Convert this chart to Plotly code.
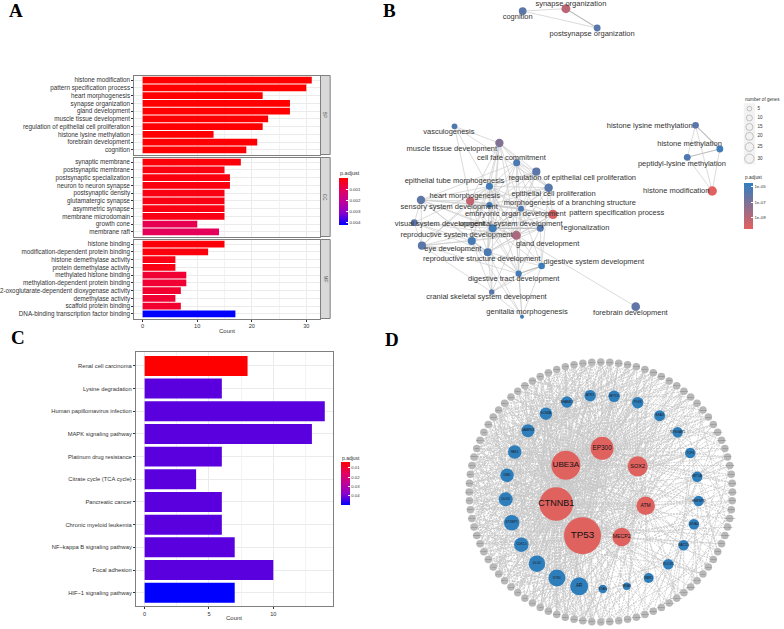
import math
import plotly.graph_objects as go

W, H = 784, 629
FONT = "Liberation Sans"

# ---------- Panel A data ----------
BP_TERMS = ["histone modification", "pattern specification process", "heart morphogenesis", "synapse organization",
            "gland development", "muscle tissue development", "regulation of epithelial cell proliferation",
            "histone lysine methylation", "forebrain development", "cognition"]
BP_COUNT = [31, 30, 22, 27, 27, 23, 22, 13, 21, 19]
BP_P = [0.00001, 0.00001, 0.00001, 0.00001, 0.00001, 0.00002, 0.00002, 0.00002, 0.00003, 0.00003]
CC_TERMS = ["synaptic membrane", "postsynaptic membrane", "postsynaptic specialization", "neuron to neuron synapse",
            "postsynaptic density", "glutamatergic synapse", "asymmetric synapse", "membrane microdomain",
            "growth cone", "membrane raft"]
CC_COUNT = [18, 15, 16, 16, 15, 15, 15, 15, 10, 14]
CC_P = [0.00012, 0.00016, 0.00018, 0.00018, 0.00022, 0.00022, 0.00022, 0.00024, 0.00095, 0.00105]
MF_TERMS = ["histone binding", "modification-dependent protein binding", "histone demethylase activity",
            "protein demethylase activity", "methylated histone binding", "methylation-dependent protein binding",
            "2-oxoglutarate-dependent dioxygenase activity", "demethylase activity", "scaffold protein binding",
            "DNA-binding transcription factor binding"]
MF_COUNT = [15, 12, 6, 6, 8, 8, 7, 6, 7, 17]
MF_P = [0.0001, 0.00015, 0.00025, 0.00025, 0.0006, 0.0006, 0.00055, 0.0006, 0.00055, 0.00427]

# ---------- Panel C data ----------
KEGG_TERMS = ["Renal cell carcinoma", "Lysine degradation", "Human papillomavirus infection", "MAPK signaling pathway",
              "Platinum drug resistance", "Citrate cycle (TCA cycle)", "Pancreatic cancer", "Chronic myeloid leukemia",
              "NF\u2212kappa B signaling pathway", "Focal adhesion", "HIF\u22121 signaling pathway"]
KEGG_COUNT = [8, 6, 14, 13, 6, 4, 6, 6, 7, 10, 7]
KEGG_P = [0.0039, 0.0424, 0.0424, 0.0424, 0.0424, 0.0424, 0.0424, 0.0424, 0.0424, 0.0424, 0.05]

# ---------- Panel B data ----------
EMAP_TERMS = ["vasculogenesis", "muscle tissue development", "cell fate commitment",
              "regulation of epithelial cell proliferation", "epithelial tube morphogenesis",
              "epithelial cell proliferation", "heart morphogenesis", "sensory system development",
              "morphogenesis of a branching structure", "embryonic organ development", "pattern specification process",
              "visual system development", "urogenital system development", "regionalization",
              "reproductive system development", "gland development", "eye development",
              "reproductive structure development", "digestive system development", "digestive tract development",
              "cranial skeletal system development", "genitalia morphogenesis", "forebrain development",
              "cognition", "synapse organization", "postsynapse organization", "histone lysine methylation",
              "histone methylation", "peptidyl-lysine methylation", "histone modification"]
EMAP_GENES = [9, 23, 15, 22, 15, 24, 22, 23, 10, 10, 30, 14, 21, 15, 21, 27, 22, 21, 13, 11, 8, 3, 25, 19, 27, 14, 13, 14, 14, 31]
EMAP_LOGP = [-5.6, -7.2, -5.5, -6.0, -5.1, -5.9, -9.3, -6.1, -5.3, -5.6, -10.0, -6.0, -5.2, -5.8, -5.4, -8.6, -6.0, -5.5,
             -5.0, -5.2, -6.0, -5.0, -6.2, -6.0, -9.1, -5.9, -6.0, -5.1, -5.6, -10.3]
EMAP_X = [191, 326, 378, 437, 296, 474, 238, 90, 296, 391, 487, 70, 306, 449, 243, 377, 93, 291, 453, 384, 303, 394, 736,
          396, 526, 620, 916, 989, 891, 966]
EMAP_Y = [379, 429, 488, 515, 559, 563, 603, 600, 615, 626, 643, 668, 685, 685, 723, 706, 737, 757, 798, 821, 876, 950,
          920, 33, 26, 84, 376, 447, 472, 573]
EMAP_LABEL_X = [174, 183, 362, 545, 191, 489, 222, 175, 538, 374, 679, 147, 360, 584, 197, 471, 186, 273, 610, 369, 287,
                409, 720, 381, 541, 605, 778, 898, 875, 858]
EMAP_LABEL_Y = [397, 446, 475, 533, 544, 582, 588, 620, 610, 641, 640, 671, 671, 685, 704, 732, 748, 776, 786, 838, 892,
                935, 938, 51, 11, 102, 377, 433, 491, 574]
EMAP_EDGES = [(0, 1), (0, 6), (0, 15), (0, 5), (1, 2), (1, 3), (1, 4), (1, 6), (1, 15), (1, 9), (1, 12), (1, 5), (1, 14),
              (1, 17), (2, 3), (2, 4), (2, 5), (2, 8), (2, 9), (2, 10), (2, 12), (2, 13), (2, 7), (2, 15), (3, 5), (3, 4),
              (3, 15), (3, 8), (3, 6), (3, 9), (3, 12), (4, 5), (4, 6), (4, 7), (4, 8), (4, 9), (4, 10), (4, 11), (4, 12),
              (4, 13), (4, 14), (4, 15), (4, 16), (4, 17), (4, 19), (5, 6), (5, 8), (5, 9), (5, 10), (5, 12), (5, 15),
              (5, 18), (6, 7), (6, 8), (6, 9), (6, 10), (6, 12), (6, 14), (6, 15), (6, 16), (6, 17), (6, 19), (7, 8),
              (7, 9), (7, 11), (7, 12), (7, 14), (7, 16), (7, 17), (7, 15), (8, 9), (8, 10), (8, 12), (8, 13), (8, 15),
              (8, 17), (9, 10), (9, 12), (9, 13), (9, 15), (9, 14), (9, 17), (9, 18), (9, 19), (10, 12), (10, 13),
              (10, 15), (10, 17), (11, 12), (11, 14), (11, 16), (11, 17), (11, 15), (12, 13), (12, 14), (12, 15), (12, 16),
              (12, 17), (12, 18), (12, 19), (12, 20), (13, 15), (13, 17), (13, 18), (13, 19), (14, 15), (14, 16),
              (14, 17), (14, 19), (14, 20), (14, 21), (15, 16), (15, 17), (15, 18), (15, 19), (15, 20), (15, 21),
              (15, 22), (16, 17), (16, 19), (16, 20), (17, 18), (17, 19), (17, 20), (17, 21), (18, 19), (18, 20), (18, 21),
              (19, 20), (19, 21), (20, 21), (23, 24), (23, 25), (26, 28), (26, 29), (27, 29), (28, 29)]
EMAP_THICK_EDGES = [(24, 25), (26, 27), (27, 28), (13, 12), (18, 19)]
SIZE_LEGEND_GENES = [5, 10, 15, 20, 25, 30]
SIZE_LEGEND_Y = [326, 354, 381, 409, 441, 476]

# ---------- Panel D data ----------
HUB_GENES = ["TP53", "CTNNB1", "UBE3A", "EP300", "SOX2", "ATM", "MECP2"]
HUB_X = [306, 227, 256, 365, 472, 496, 424]
HUB_Y = [497, 402, 286, 235, 289, 407, 501]
HUB_DIAM = [37, 33.5, 29, 23, 20, 18.5, 18.5]
HUB_FONT = [9.8, 9, 8.1, 6.4, 5.6, 5, 5.2]
MID_GENES = ["SHANK3", "ATRX", "SETD5", "PLK3", "SKA3", "SYNGAP1", "TCF4", "MIT1A", "HNRNPU", "GRIA2", "NAT2D", "ROCK1",
             "NBR1", "NRAS", "STAG", "AR", "SYN1", "DLG2", "CDKL5", "STXBP1", "DLG3", "DMD", "PAK2", "GABRG3", "SCN8A"]
MID_X = [259, 329, 401, 472, 538, 592, 630, 651, 655, 641, 610, 564, 505, 439, 367, 296, 229, 169, 122, 93, 75, 79, 102,
         142, 196]
MID_Y = [96, 77, 79, 98, 137, 187, 249, 320, 393, 463, 526, 583, 624, 649, 657, 649, 624, 581, 524, 458, 388, 316, 246,
         182, 131]
MID_DIAM = [11.5, 11.5, 11.5, 11.5, 11, 10.5, 10.5, 10.5, 10.5, 10.5, 10.5, 10.5, 10, 7.5, 8.5, 18, 17, 16.5, 14.5,
            15.5, 14, 13.5, 13.5, 13, 12.5]
RING_GENES = ["BRD4", "KMT2A", "HDAC4", "CHD8", "CHD2", "ASXL1", "ARID1B", "NIPBL", "TBR1", "FOXP1", "KDM5C", "KDM6A",
              "PHF8", "SETD2", "NSD1", "EZH2", "DNMT3A", "CREBBP", "ADNP", "POGZ", "GRIN2B", "GRIN1", "NLGN3", "NLGN4X",
              "NRXN1", "CNTN4", "CNTNAP2", "SHANK2", "HOMER1", "RELN", "PTEN", "TSC1", "TSC2", "NF1", "SMAD4", "MED13L",
              "DYRK1A", "CACNA1C", "CACNA1H", "SCN1A", "SCN2A", "KCNQ2", "GABRB3", "MAPT", "APP", "PSEN1", "HTT", "SNCA",
              "NOTCH1", "WNT1", "FZD4", "GSK3B", "AXIN2", "APC", "MYC", "JUN", "FOS", "KRAS", "BRAF", "RAF1", "AKT1",
              "MTOR", "PIK3CA", "EGFR", "ERBB2", "IGF1R", "FGFR1", "VEGFA", "HIF1A", "STAT3", "NFKB1", "RELA", "CDK2",
              "CCND1", "RB1", "BRCA1", "ATR", "CHEK1", "MDM2", "SIRT1", "HSPA8", "HSP90", "UBC", "SUMO1", "XPO1", "PCNA",
              "YWHAZ", "TUBB", "ACTB", "SOX9", "PAX6", "GATA4"]
# neighbours typed as: 0-91 outer ring, 100-124 middle ring, 200-206 hubs
HUB_LINKS = {
    200: [0, 2, 3, 7, 9, 12, 16, 19, 24, 27, 29, 33, 36, 40, 42, 45, 47, 49, 50, 52, 55, 56, 58, 60, 61, 63, 65, 66, 68,
          70, 71, 73, 74, 77, 79, 80, 82, 84, 86, 88, 89, 91, 100, 103, 106, 109, 112, 115, 116, 117, 118, 119, 120, 201,
          202, 203, 204, 205, 206],
    201: [1, 4, 6, 10, 14, 17, 21, 26, 31, 35, 38, 43, 46, 48, 51, 53, 54, 57, 59, 62, 64, 67, 69, 72, 75, 76, 78, 81, 83,
          85, 87, 90, 101, 104, 108, 111, 114, 117, 119, 121, 122, 123, 124, 202, 203, 204, 205, 206],
    202: [0, 3, 5, 8, 11, 15, 20, 25, 30, 34, 44, 47, 50, 53, 55, 58, 61, 63, 65, 68, 70, 73, 76, 79, 82, 83, 85, 87, 88,
          90, 91, 100, 102, 105, 110, 113, 118, 120, 122, 123, 124, 203, 204, 206],
    203: [1, 2, 5, 7, 9, 13, 18, 22, 28, 32, 37, 41, 46, 49, 52, 56, 59, 62, 66, 69, 72, 75, 78, 80, 84, 86, 89, 101, 102,
          103, 107, 116, 119, 121, 204, 205],
    204: [4, 6, 8, 12, 14, 19, 23, 27, 30, 39, 43, 48, 54, 60, 64, 67, 71, 74, 77, 81, 85, 90, 103, 104, 106, 107, 111,
          118, 122, 205, 206],
    205: [2, 10, 15, 17, 20, 24, 31, 34, 37, 41, 44, 49, 51, 57, 63, 69, 73, 78, 83, 88, 105, 108, 109, 112, 115, 120, 206],
    206: [3, 11, 16, 21, 25, 29, 33, 36, 38, 42, 47, 50, 55, 59, 65, 70, 76, 82, 87, 110, 113, 114, 116, 117, 121],
}
MID_LINKS = {
    100: [82, 85, 88, 2, 7, 60, 71, 121], 101: [84, 90, 4, 11, 51, 66, 102], 102: [1, 6, 9, 47, 56, 74, 103],
    103: [3, 8, 13, 17, 43, 58], 104: [10, 14, 18, 24, 45, 60], 105: [12, 16, 21, 33, 48], 106: [15, 19, 25, 30, 37, 54],
    107: [20, 22, 27, 39, 52, 68], 108: [23, 26, 31, 35, 46, 72], 109: [28, 29, 34, 41, 57], 110: [24, 32, 36, 38, 50, 77],
    111: [33, 37, 40, 44, 55, 64], 112: [42, 45, 48, 53, 80], 113: [46, 49], 114: [47, 51, 61], 115: [48, 50, 52, 54, 56,
    58, 86, 22, 117], 116: [53, 55, 57, 59, 62, 79, 9, 118], 117: [58, 60, 61, 64, 66, 83, 5, 118], 118: [62, 63, 65, 67,
    70, 88, 13], 119: [66, 68, 69, 72, 75, 91, 28], 120: [70, 71, 73, 76, 80, 15], 121: [74, 75, 77, 79, 82, 3],
    122: [76, 78, 81, 84, 87, 19], 123: [80, 83, 85, 86, 89, 6], 124: [81, 84, 87, 90, 91, 10],
}
# further neighbours of the densely connected left half
EXTRA_LINKS = {
    200: [1, 4, 5, 6, 10, 11, 51, 53, 54, 57, 59, 62, 64, 67, 69, 72, 75, 76, 78, 81, 83, 85, 87, 90, 101, 102, 104, 105,
          121, 122, 123, 124, 13, 22],
    201: [0, 2, 3, 5, 7, 8, 9, 11, 12, 13, 15, 16, 47, 49, 50, 52, 55, 56, 58, 60, 61, 63, 65, 66, 68, 70, 71, 73, 74, 77,
          79, 80, 82, 84, 86, 88, 89, 91, 100, 102, 103, 106, 115, 116, 118, 120],
    202: [1, 2, 4, 6, 7, 9, 10, 12, 14, 46, 48, 49, 51, 52, 54, 56, 57, 59, 60, 62, 64, 66, 67, 69, 71, 72, 74, 75, 77, 78,
          80, 81, 84, 86, 89, 101, 103, 106, 115, 116, 117, 119, 121],
    203: [0, 3, 4, 6, 8, 10, 11, 14, 16, 48, 50, 51, 53, 54, 57, 58, 60, 61, 63, 64, 67, 68, 70, 71, 73, 74, 76, 77, 79, 81,
          82, 83, 85, 87, 88, 90, 91, 100, 104, 105, 106, 117, 118, 122, 123, 124],
    204: [0, 1, 3, 5, 9, 10, 16, 18, 21, 46, 51, 52, 58, 62, 65, 69, 73, 78, 83, 87, 91, 100, 101, 105, 108, 117, 120, 124],
    205: [0, 5, 8, 12, 46, 53, 55, 60, 65, 67, 71, 75, 80, 85, 90, 100, 103, 106, 107, 110, 117, 119, 122],
    206: [1, 6, 13, 19, 44, 46, 48, 52, 57, 61, 63, 68, 72, 78, 84, 89, 100, 104, 111, 112, 115, 118, 120, 122],
    115: [44, 60, 65, 70, 76, 82, 88, 2], 116: [47, 51, 66, 71, 77, 85, 91, 5], 117: [49, 54, 69, 73, 80, 86, 0, 8],
    118: [52, 57, 60, 74, 78, 84, 90, 4], 119: [50, 55, 61, 78, 83, 87, 1, 11], 120: [48, 53, 59, 64, 68, 85, 89, 0],
    121: [47, 58, 63, 66, 70, 86, 91, 7], 122: [49, 56, 62, 67, 72, 90, 2, 12], 123: [46, 51, 59, 65, 73, 91, 4, 9],
    124: [50, 54, 61, 69, 75, 78, 1, 6], 100: [56, 64, 68, 74, 79, 90, 5], 101: [47, 62, 69, 78, 87, 1], 102: [53, 65, 72,
    80, 88, 3], 103: [49, 61, 76, 84, 91], 104: [50, 63, 75, 82, 8],
}
RING_CHORDS = [(0, 45), (5, 52), (9, 30), (13, 38), (16, 41), (18, 35), (20, 33), (22, 43), (25, 37), (26, 49), (28, 42),
               (11, 60), (14, 54), (7, 66), (3, 72), (47, 83), (50, 76), (53, 90), (56, 70), (61, 85), (64, 80), (48, 62),
               (31, 46), (34, 40), (12, 27), (17, 44), (19, 57), (23, 39), (67, 88), (58, 74), (2, 50), (6, 58), (10, 48),
               (51, 86), (55, 82), (59, 89), (63, 87), (65, 84), (68, 81), (69, 91), (71, 1), (73, 4), (75, 8), (77, 0),
               (52, 79), (54, 78), (57, 75), (60, 73), (62, 72)]

# ---------- helpers ----------
def dom_x(a, b):
    return [a / W, b / W]

def dom_y(top, bottom):
    return [1 - bottom / H, 1 - top / H]

LINE = "#7f7f7f"
TXT = "#333333"
# first stop = largest p.adjust, so that the small values sit on top of the bar, as in the reference
LAB_SCALE = [[0, "#0000ff"], [0.25, "#8800cf"], [0.5, "#c0009a"], [0.75, "#e4005b"], [1, "#ff0000"]]

def count_axis(a, b, lo, hi, major, minor, showlabels, size):
    return dict(domain=dom_x(a, b), range=[lo, hi], showline=True, mirror=True, linecolor=LINE, linewidth=1,
                showgrid=True, gridcolor="#ebebeb", gridwidth=0.6, zeroline=False, tick0=0, dtick=major,
                minor=dict(dtick=minor, tick0=0, showgrid=True, gridcolor="#f3f3f3", gridwidth=0.4, ticklen=0),
                ticks="outside" if showlabels else "", ticklen=2, tickcolor=TXT, tickwidth=0.6,
                showticklabels=showlabels, tickfont=dict(family=FONT, size=size, color=TXT))

def term_axis(top, bottom, terms, size, pad):
    n = len(terms)
    return dict(domain=dom_y(top, bottom), type="category", categoryorder="array", categoryarray=terms,
                tickmode="linear", tick0=0, dtick=1,
                range=[n - 1 + pad, -pad], showline=True, mirror=True, linecolor=LINE, linewidth=1,
                showgrid=True, gridcolor="#ebebeb", gridwidth=0.6, zeroline=False, ticks="outside", ticklen=2,
                tickcolor=TXT, tickwidth=0.6, tickfont=dict(family=FONT, size=size, color=TXT))

def hidden(dom_a, dom_b, rng_x, rng_y):
    return (dict(domain=dom_x(*dom_a), range=rng_x, visible=False, fixedrange=True),
            dict(domain=dom_y(*dom_b), range=rng_y, visible=False, fixedrange=True))

def cbar(x0, x1, top, bottom, vals, texts, size):
    return dict(x=x0 / W, xanchor="left", y=1 - top / H, yanchor="top", len=bottom - top, lenmode="pixels",
                thickness=x1 - x0, thicknessmode="pixels", xpad=0, ypad=0, outlinewidth=0, borderwidth=0,
                ticks="inside", ticklen=2, tickcolor="white", tickwidth=0.6, tickvals=vals, ticktext=texts,
                tickfont=dict(family=FONT, size=size, color=TXT))

def neg(values):
    return [-v for v in values]

fig = go.Figure()

# ---------- bars A ----------
for terms, cnt, p, ax in [(BP_TERMS, BP_COUNT, BP_P, ""), (CC_TERMS, CC_COUNT, CC_P, "2"), (MF_TERMS, MF_COUNT, MF_P, "3")]:
    fig.add_trace(go.Bar(x=cnt, y=terms, orientation="h", width=0.88,
                         marker=dict(color=neg(p), coloraxis="coloraxis", line_width=0),
                         xaxis="x" + ax, yaxis="y" + ax, showlegend=False))

# ---------- bars C ----------
fig.add_trace(go.Bar(x=KEGG_COUNT, y=KEGG_TERMS, orientation="h", width=0.88,
                     marker=dict(color=neg(KEGG_P), coloraxis="coloraxis2", line_width=0), xaxis="x4", yaxis="y4",
                     showlegend=False))

# ---------- network B ----------
def px_size(g):
    return 1.5 + 1.43 * g ** 0.5

def edge_xy(edges, xs, ys):
    ex, ey = [], []
    for a, b in edges:
        ex += [xs[a], xs[b], None]
        ey += [ys[a], ys[b], None]
    return ex, ey

ex, ey = edge_xy(EMAP_EDGES, EMAP_X, EMAP_Y)
fig.add_trace(go.Scatter(x=ex, y=ey, mode="lines", line=dict(color="#cccccc", width=0.7), xaxis="x5", yaxis="y5",
                         showlegend=False, hoverinfo="skip"))
ex, ey = edge_xy(EMAP_THICK_EDGES, EMAP_X, EMAP_Y)
fig.add_trace(go.Scatter(x=ex, y=ey, mode="lines", line=dict(color="#bdbdbd", width=1.1), xaxis="x5", yaxis="y5",
                         showlegend=False, hoverinfo="skip"))
fig.add_trace(go.Scatter(x=EMAP_X, y=EMAP_Y, mode="markers", xaxis="x5", yaxis="y5", showlegend=False,
                         marker=dict(size=[px_size(g) for g in EMAP_GENES], color=EMAP_LOGP, coloraxis="coloraxis3",
                                     line_width=0, opacity=1)))
fig.add_trace(go.Scatter(x=EMAP_LABEL_X, y=EMAP_LABEL_Y, mode="text", text=EMAP_TERMS, xaxis="x5", yaxis="y5",
                         textposition="middle center", textfont=dict(family=FONT, size=7.5, color=TXT), showlegend=False))
fig.add_trace(go.Scatter(x=[1078] * 6, y=SIZE_LEGEND_Y, mode="markers", xaxis="x5", yaxis="y5", showlegend=False,
                         marker=dict(size=[px_size(g) for g in SIZE_LEGEND_GENES], color="rgba(0,0,0,0)", opacity=1,
                                     line=dict(color="#a0a0a0", width=0.6))))
fig.add_trace(go.Scatter(x=[1102] * 6, y=SIZE_LEGEND_Y, mode="text", xaxis="x5", yaxis="y5", showlegend=False,
                         text=[str(g) for g in SIZE_LEGEND_GENES], textposition="middle right",
                         textfont=dict(family=FONT, size=4.6, color=TXT)))

# ---------- network D ----------
n_ring = len(RING_GENES)
CX, CY, RX, RY = 361, 366, 396, 390
ring_x = [CX + RX * math.sin(2 * math.pi * i / n_ring) for i in range(n_ring)]
ring_y = [CY - RY * math.cos(2 * math.pi * i / n_ring) for i in range(n_ring)]

def pos(k):
    if k < 100:
        return ring_x[k], ring_y[k]
    if k < 200:
        return MID_X[k - 100], MID_Y[k - 100]
    return HUB_X[k - 200], HUB_Y[k - 200]

ex, ey = [], []
links = [(a, b) for d in (HUB_LINKS, MID_LINKS, EXTRA_LINKS) for a, lst in d.items() for b in lst] + RING_CHORDS
for a, b in links:
    xa, ya = pos(a)
    xb, yb = pos(b)
    ex += [xa, xb, None]
    ey += [ya, yb, None]
fig.add_trace(go.Scatter(x=ex, y=ey, mode="lines", line=dict(color="#c6c6c6", width=0.8, dash="2px,1px"), xaxis="x6",
                         yaxis="y6", showlegend=False, hoverinfo="skip"))
fig.add_trace(go.Scatter(x=ring_x, y=ring_y, mode="markers+text", text=RING_GENES, xaxis="x6", yaxis="y6", showlegend=False,
                         marker=dict(size=7.5, color="#b8b8b8", line_width=0, opacity=1),
                         textposition="middle center", textfont=dict(family=FONT, size=2.3, color="#777777")))
fig.add_trace(go.Scatter(x=MID_X, y=MID_Y, mode="markers+text", text=MID_GENES, xaxis="x6", yaxis="y6", showlegend=False,
                         marker=dict(size=MID_DIAM, color="#2f7ebc", line_width=0, opacity=1), textposition="middle center",
                         textfont=dict(family=FONT, size=[4.6 if g == "AR" else 3.2 for g in MID_GENES], color="#1a1a1a")))
fig.add_trace(go.Scatter(x=HUB_X, y=HUB_Y, mode="markers+text", text=HUB_GENES, xaxis="x6", yaxis="y6", showlegend=False,
                         marker=dict(size=HUB_DIAM, color="#e0625f", line_width=0, opacity=1), textposition="middle center",
                         textfont=dict(family=FONT, size=HUB_FONT, color="#111111")))

# ---------- layout ----------
A_L, A_R = 132.7, 319.3
lo_a, hi_a = (A_L - 141) / 5.47, (A_R - 141) / 5.47
C_L, C_R = 134.3, 332.3
lo_c, hi_c = (C_L - 143) / 12.9, (C_R - 143) / 12.9
PANELS = [(75.5, 154.5), (157.5, 236.5), (239.5, 318.5)]
x5, y5 = hidden((390, 784), (0, 325), [0, 1182], [975, 0])
x6, y6 = hidden((440, 784), (345, 629), [-120, 912], [777, -75])

shapes = []
for (top, bottom) in PANELS:
    shapes.append(dict(type="rect", xref="paper", yref="paper", x0=A_R / W, x1=329 / W, y0=1 - bottom / H, y1=1 - top / H,
                       fillcolor="#d9d9d9", line=dict(color=LINE, width=1)))
shapes.append(dict(type="rect", xref="x5", yref="y5", x0=1061, x1=1095, y0=310, y1=493, fillcolor="#f2f2f2", line_width=0,
                   layer="below"))

def note(x, y, text, size, color=TXT, family=FONT, angle=0, bold=False, xanchor="center"):
    t = "<b>%s</b>" % text if bold else text
    return dict(x=x / W, y=1 - y / H, xref="paper", yref="paper", text=t, showarrow=False, xanchor=xanchor, yanchor="middle",
                font=dict(family=family, size=size, color=color), textangle=angle, borderpad=0)

annotations = [
    note(14, 10, "A", 19, "#000000", "Liberation Serif", bold=True),
    note(388, 10, "B", 19, "#000000", "Liberation Serif", bold=True),
    note(16, 337, "C", 19, "#000000", "Liberation Serif", bold=True),
    note(391, 339, "D", 19, "#000000", "Liberation Serif", bold=True),
    note(324, 115, "BP", 4.6, "#4d4d4d", angle=90),
    note(324, 197, "CC", 4.6, "#4d4d4d", angle=90),
    note(324, 279, "MF", 4.6, "#4d4d4d", angle=90),
    note(226, 331, "Count", 6, TXT),
    note(233, 618, "Count", 6, TXT),
    note(338, 173, "p.adjust", 5.5, TXT, xanchor="left"),
    note(340.3, 457.5, "p.adjust", 5, TXT, xanchor="left"),
    note(743.7, 178, "p.adjust", 4.8, TXT, xanchor="left"),
    note(743.7, 99, "number of genes", 4.6, TXT, xanchor="left"),
]

fig.update_layout(
    width=W, height=H, autosize=False, margin=dict(l=0, r=0, t=0, b=0), paper_bgcolor="white", plot_bgcolor="white",
    barmode="overlay", showlegend=False, shapes=shapes, annotations=annotations,
    xaxis=dict(count_axis(A_L, A_R, lo_a, hi_a, 10, 5, False, 5.6), anchor="y"),
    xaxis2=dict(count_axis(A_L, A_R, lo_a, hi_a, 10, 5, False, 5.6), anchor="y2"),
    xaxis3=dict(count_axis(A_L, A_R, lo_a, hi_a, 10, 5, True, 5.6), anchor="y3"),
    xaxis4=dict(count_axis(C_L, C_R, lo_c, hi_c, 5, 2.5, True, 5.6), anchor="y4"),
    yaxis=dict(term_axis(*PANELS[0], BP_TERMS, 6.3, 0.6), anchor="x"),
    yaxis2=dict(term_axis(*PANELS[1], CC_TERMS, 6.3, 0.6), anchor="x2"),
    yaxis3=dict(term_axis(*PANELS[2], MF_TERMS, 6.3, 0.6), anchor="x3"),
    yaxis4=dict(term_axis(352.3, 606.3, KEGG_TERMS, 5.8, 0.6), anchor="x4"),
    xaxis5=dict(x5, anchor="y5"), yaxis5=dict(y5, anchor="x5"),
    xaxis6=dict(x6, anchor="y6"), yaxis6=dict(y6, anchor="x6"),
    coloraxis=dict(cmin=-0.00427, cmax=0, colorscale=LAB_SCALE,
                   colorbar=cbar(338, 347, 178, 225, [-0.001, -0.002, -0.003, -0.004], ["0.001", "0.002", "0.003", "0.004"], 4.4)),
    coloraxis2=dict(cmin=-0.05, cmax=-0.0039, colorscale=LAB_SCALE,
                    colorbar=cbar(340.3, 349, 462, 505, [-0.01, -0.02, -0.03, -0.04], ["0.01", "0.02", "0.03", "0.04"], 4.2)),
    coloraxis3=dict(cmin=-10.4, cmax=-4.6, colorscale=[[0, "#e45f5e"], [1, "#2f7fc1"]],
                    colorbar=cbar(743.7, 753, 183, 229, [-5, -7, -9], ["1e-05", "1e-07", "1e-09"], 4.4)),
)
fig.write_html("out.html", config={"displayModeBar": False},
               post_script="document.body.style.margin='0';document.documentElement.style.overflow='hidden';"
                           "document.querySelectorAll('.svg-container').forEach(function(e){e.style.willChange='opacity';});")
